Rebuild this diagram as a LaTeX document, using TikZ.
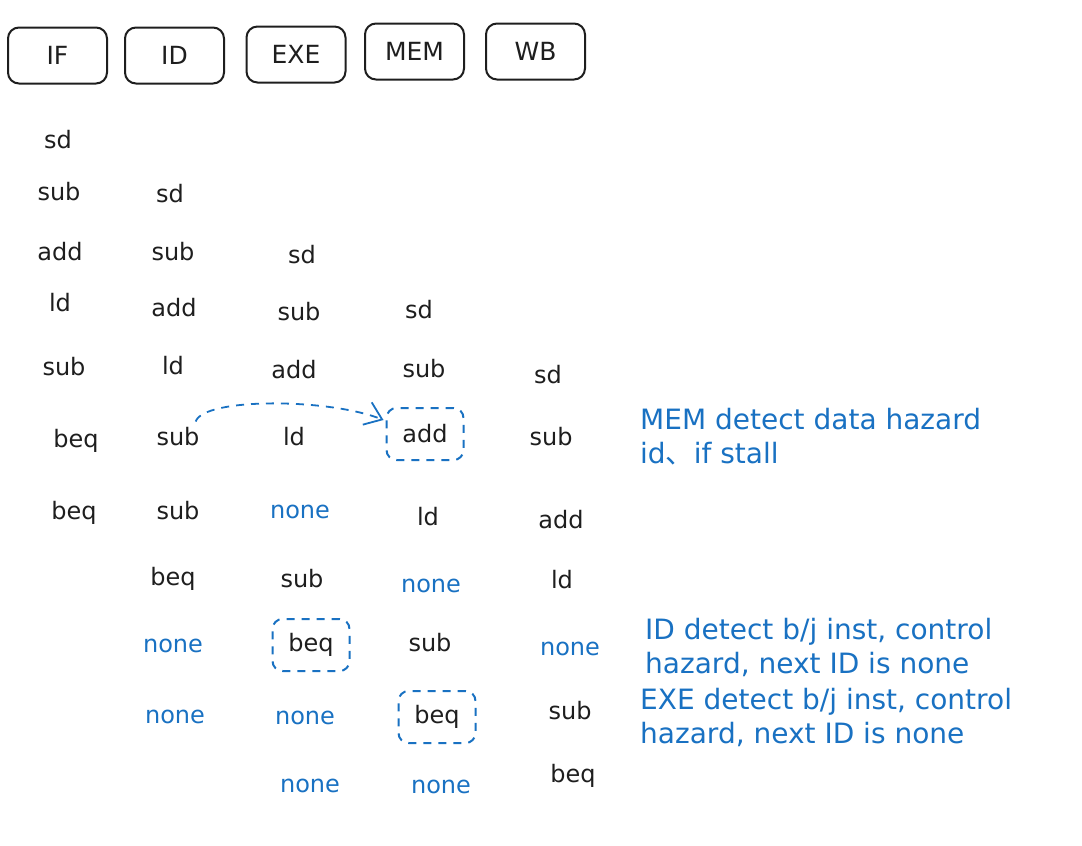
\documentclass[tikz,border=0pt]{standalone}
\usepackage{fontspec}
\setmainfont{DejaVu Sans}
\newfontfamily\cjk{Noto Sans CJK SC}
\usetikzlibrary{arrows.meta}
\definecolor{ink}{HTML}{1E1E1E}
\definecolor{hblue}{HTML}{1971C2}
\tikzset{
  stage/.style={draw=ink, line width=2pt, rounded corners=11pt, minimum width=99pt, minimum height=56pt, font=\fontsize{25}{28}\selectfont, text=ink},
  ins/.style={font=\fontsize{24}{27}\selectfont, text=ink, inner sep=0pt},
  nop/.style={font=\fontsize{24}{27}\selectfont, text=hblue, inner sep=0pt},
  hl/.style={draw=hblue, line width=2pt, dash pattern=on 8pt off 7pt, rounded corners=10pt, minimum width=77pt, minimum height=52pt, font=\fontsize{24}{27}\selectfont, text=ink},
  note/.style={font=\fontsize{28}{34}\selectfont, text=hblue, anchor=west, inner sep=0pt, align=left},
  hazard/.style={draw=hblue, line width=1.8pt, dash pattern=on 8pt off 7pt, -{Straight Barb[length=16pt,width=24pt]}}
}
\begin{document}
\begin{tikzpicture}[x=1pt,y=-1pt]
\useasboundingbox (0,0) rectangle (1082,846);
% stage headers
\node[stage] (hIF)  at (57.5,55.5) {IF};
\node[stage] (hID)  at (174.5,55.5) {ID};
\node[stage] (hEXE) at (296,54.5) {EXE};
\node[stage] (hMEM) at (414.5,51.5) {MEM};
\node[stage] (hWB)  at (535.5,51.5) {WB};
% IF column
\node[ins] (if1) at (58,140) {sd};
\node[ins] (if2) at (59,192) {sub};
\node[ins] (if3) at (60,252) {add};
\node[ins] (if4) at (60,303) {ld};
\node[ins] (if5) at (64,367) {sub};
\node[ins] (if6) at (76,441) {beq};
\node[ins] (if7) at (74,513) {beq};
% ID column
\node[ins] (id1) at (170,194) {sd};
\node[ins] (id2) at (173,252) {sub};
\node[ins] (id3) at (174,308) {add};
\node[ins] (id4) at (173,366) {ld};
\node[ins] (id5) at (178,437) {sub};
\node[ins] (id6) at (178,511) {sub};
\node[ins] (id7) at (173,579) {beq};
\node[nop] (id8) at (173,646) {none};
\node[nop] (id9) at (175,717) {none};
% EXE column
\node[ins] (ex1) at (302,255) {sd};
\node[ins] (ex2) at (299,312) {sub};
\node[ins] (ex3) at (294,370) {add};
\node[ins] (ex4) at (294,437) {ld};
\node[nop] (ex5) at (300,512) {none};
\node[ins] (ex6) at (302,579) {sub};
\node[hl]  (ex7) at (311,645) {beq};
\node[nop] (ex8) at (305,718) {none};
\node[nop] (ex9) at (310,786) {none};
% MEM column
\node[ins] (me1) at (419,310) {sd};
\node[ins] (me2) at (424,369) {sub};
\node[hl]  (me3) at (425,434) {add};
\node[ins] (me4) at (428,517) {ld};
\node[nop] (me5) at (431,586) {none};
\node[ins] (me6) at (430,643) {sub};
\node[hl]  (me7) at (437,717) {beq};
\node[nop] (me8) at (441,787) {none};
% WB column
\node[ins] (wb1) at (548,375) {sd};
\node[ins] (wb2) at (551,437) {sub};
\node[ins] (wb3) at (561,520) {add};
\node[ins] (wb4) at (562,580) {ld};
\node[nop] (wb5) at (570,649) {none};
\node[ins] (wb6) at (570,711) {sub};
\node[ins] (wb7) at (573,776) {beq};
% hazard arrow
\draw[hazard] ([shift={(-4pt,6pt)}]id5.north east) .. controls +(8,-24) and +(-55,-22) .. ([shift={(-2pt,14pt)}]me3.west);
% notes
\node[note] (n1) at (640,437) {MEM detect data hazard\\id{\cjk 、}if stall};
\node[note] (n2) at (645,647) {ID detect b/j inst, control\\hazard, next ID is none};
\node[note] (n3) at (640,717) {EXE detect b/j inst, control\\hazard, next ID is none};
\end{tikzpicture}
\end{document}
